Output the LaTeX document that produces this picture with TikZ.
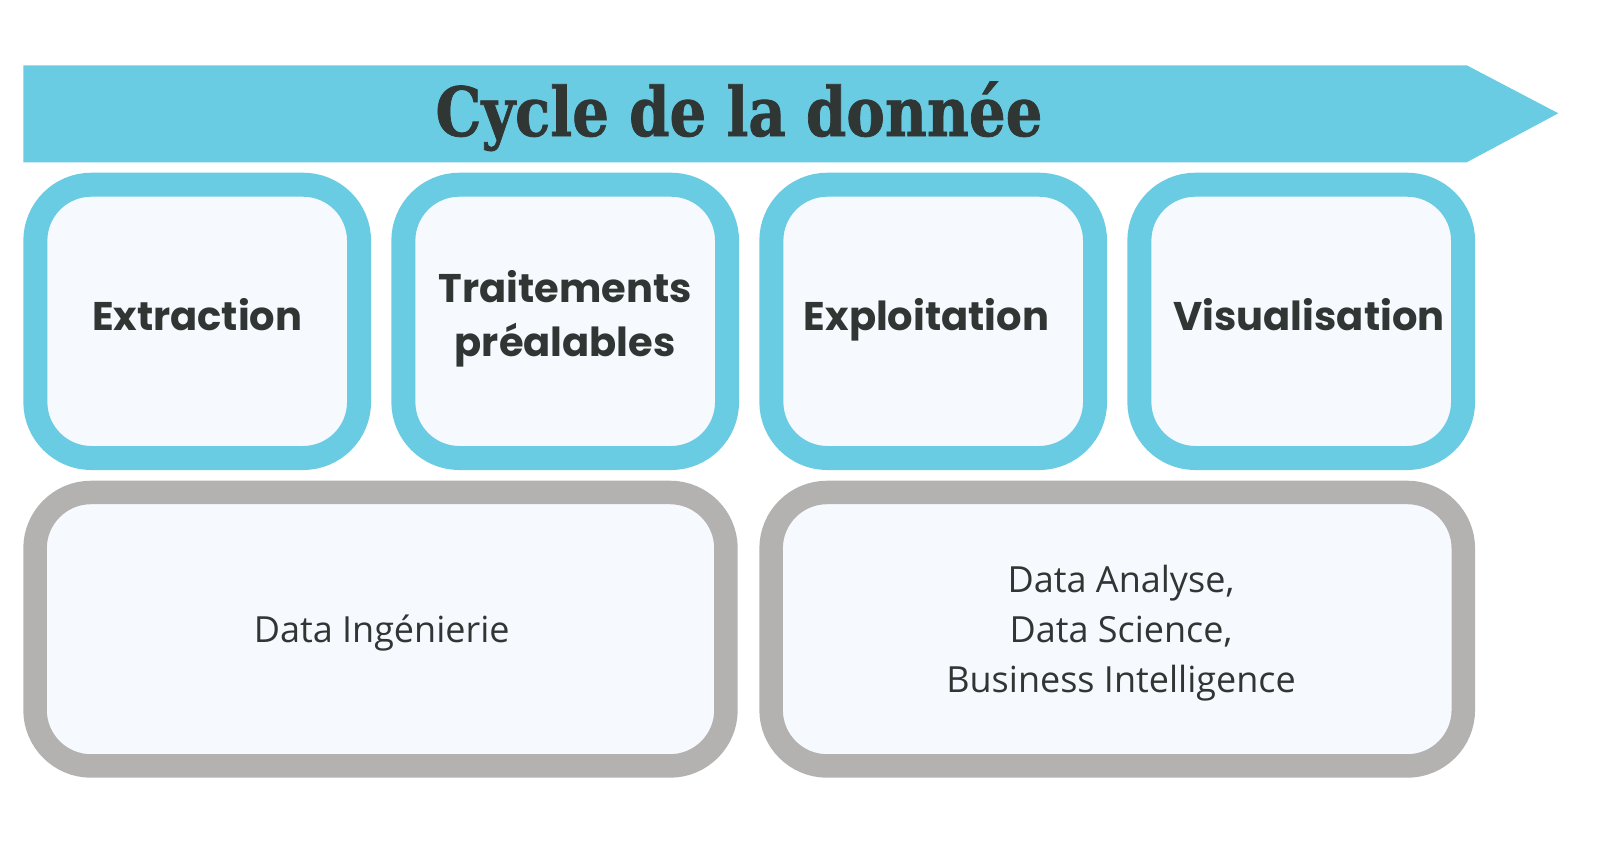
\documentclass[tikz,border=0pt]{standalone}
\usepackage{fontspec}
\usepackage{graphicx}
\newfontfamily\titlefont{DejaVu Serif}[BoldFeatures={FakeBold=1.2}]
\newfontfamily\lblfont{Poppins}
\newfontfamily\subfont{Open Sans}
\definecolor{cblue}{HTML}{69CCE3}
\definecolor{cgray}{HTML}{B3B2B1}
\definecolor{cfill}{HTML}{F6FAFE}
\definecolor{ctext}{HTML}{2F3634}
\tikzset{
  bluebox/.style={draw=cblue, line width=24pt, fill=cfill, rounded corners=56pt,
    minimum width=323.7pt, minimum height=273.3pt, inner sep=0pt},
  graybox/.style={draw=cgray, line width=23.5pt, fill=cfill, rounded corners=56pt,
    minimum height=273.5pt, inner sep=0pt},
  lbl/.style={text=ctext, font=\lblfont\bfseries\fontsize{40}{54}\selectfont, align=center, inner sep=0pt, anchor=base},
  sub/.style={text=ctext, font=\subfont\fontsize{36}{50}\selectfont, align=center, inner sep=0pt, anchor=base},
}
\begin{document}
\begin{tikzpicture}[x=1pt,y=-1pt]
\useasboundingbox (0,0) rectangle (1600,848);
% arrow banner
\fill[cblue] (23.3,65.3) -- (1466.7,65.3) -- (1558.3,113.3) -- (1466.7,162.3) -- (23.3,162.3) -- cycle;
\node[text=ctext, inner sep=0pt, anchor=base] (title) at (739,136)
  {\scalebox{0.85}[1]{\titlefont\bfseries\fontsize{68}{70}\selectfont Cycle de la donnée}};
% blue boxes
\node[bluebox] (b1) at (197.2,321.35) {};
\node[bluebox] (b2) at (565.2,321.35) {};
\node[bluebox] (b3) at (933.2,321.35) {};
\node[bluebox] (b4) at (1301.2,321.35) {};
\node[lbl] (t1) at (197.2,330) {Extraction};
\node[lbl] (t2) at (565.2,356.5) {Traitements\\préalables};
\node[lbl] (t3) at (926.5,330) {Exploitation};
\node[lbl] (t4) at (1309,330) {Visualisation};
% gray boxes
\node[graybox, minimum width=690.9pt] (g1) at (380.5,629.2) {};
\node[graybox, minimum width=692.2pt] (g2) at (1117.2,629.2) {};
\node[sub] (s1) at (381.7,642) {Data Ingénierie};
\node[sub] (s2) at (1121,692) {Data Analyse,\\Data Science,\\Business Intelligence};
\end{tikzpicture}
\end{document}
